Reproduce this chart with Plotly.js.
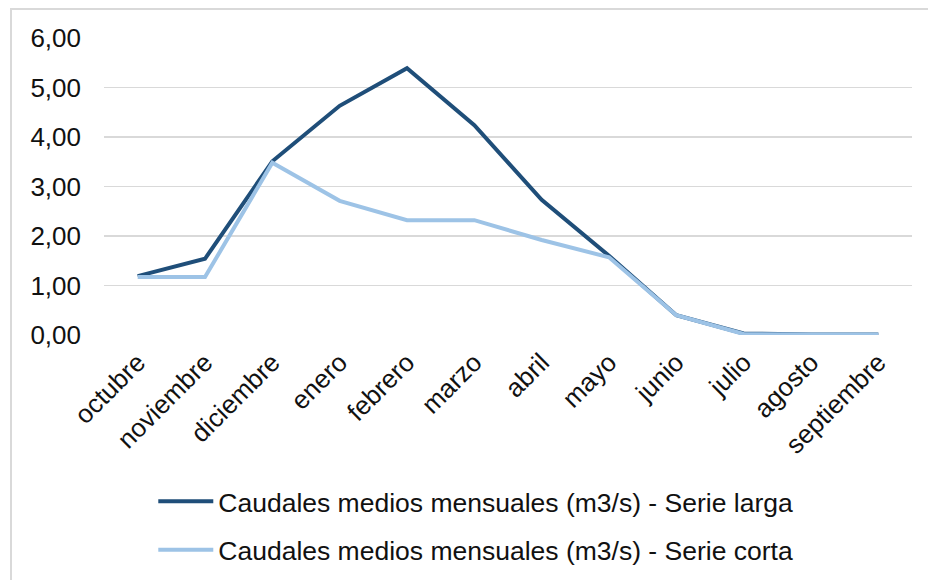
<!DOCTYPE html>
<html>
<head>
<meta charset="utf-8">
<script src="https://cdn.plot.ly/plotly-3.0.1.min.js"></script>
<style>
  html, body { margin: 0; padding: 0; background: #fff; }
  #chart { width: 928px; height: 580px; }
</style>
</head>
<body>
<div id="chart"></div>
<script>
var meses = ['octubre', 'noviembre', 'diciembre', 'enero', 'febrero', 'marzo',
             'abril', 'mayo', 'junio', 'julio', 'agosto', 'septiembre'];
var serieLarga = [1.19, 1.54, 3.51, 4.63, 5.39, 4.24, 2.73, 1.60, 0.40, 0.03, 0.01, 0.01];
var serieCorta = [1.17, 1.17, 3.48, 2.71, 2.32, 2.32, 1.92, 1.57, 0.40, 0.02, 0.01, 0.01];
var yTicks = [0, 1, 2, 3, 4, 5, 6];
var yTickText = ['0,00', '1,00', '2,00', '3,00', '4,00', '5,00', '6,00'];

var fuente = {family: 'Liberation Sans, Arial, sans-serif', size: 26, color: '#111111'};
var fuenteLeyenda = {family: 'Liberation Sans, Arial, sans-serif', size: 26.5, color: '#111111'};

var larga = {
  x: meses,
  y: serieLarga,
  type: 'scatter',
  mode: 'lines',
  name: 'Caudales medios mensuales (m3/s) - Serie larga',
  legendgroup: 'a',
  line: {color: '#1f4e79', width: 4}
};

var corta = {
  x: meses,
  y: serieCorta,
  type: 'scatter',
  mode: 'lines',
  name: 'Caudales medios mensuales (m3/s) - Serie corta',
  legendgroup: 'b',
  line: {color: '#9dc3e6', width: 4}
};

var layout = {
  width: 928,
  height: 580,
  margin: {l: 104, r: 16, t: 38, b: 245, autoexpand: false},
  paper_bgcolor: '#ffffff',
  plot_bgcolor: '#ffffff',
  font: fuente,
  showlegend: true,
  xaxis: {
    type: 'category',
    range: [-0.5, 11.5],
    automargin: false,
    showgrid: false,
    zeroline: false,
    showline: false,
    tickangle: -45,
    ticklabelstandoff: 6,
    tickfont: fuente
  },
  yaxis: {
    range: [0, 6],
    automargin: false,
    tickvals: yTicks,
    ticktext: yTickText,
    showgrid: true,
    gridcolor: '#d9d9d9',
    gridwidth: 1.5,
    zeroline: false,
    showline: false,
    ticklabelstandoff: 22,
    tickfont: fuente
  },
  legend: {
    x: 0.061,
    xanchor: 'left',
    y: -0.48,
    yanchor: 'top',
    font: fuenteLeyenda,
    tracegroupgap: 11,
    itemwidth: 55,
    bgcolor: 'rgba(0,0,0,0)'
  },
  shapes: [{
    type: 'rect',
    xref: 'paper',
    yref: 'paper',
    x0: -0.1151, x1: 1.1,
    y0: -1.0, y1: 1.0976,
    line: {color: '#d9d9d9', width: 2},
    fillcolor: 'rgba(0,0,0,0)',
    layer: 'below'
  }]
};

Plotly.newPlot('chart', [larga, corta], layout, {displayModeBar: false, staticPlot: true});
</script>
</body>
</html>
